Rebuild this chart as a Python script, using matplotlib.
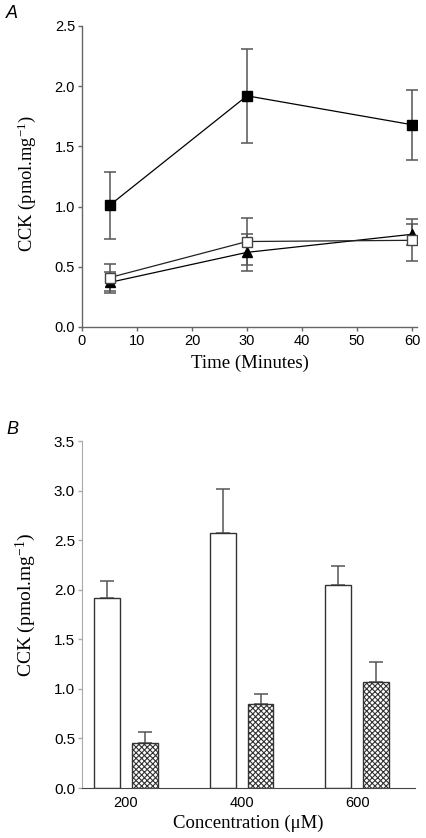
import matplotlib
matplotlib.use("Agg")
import matplotlib.pyplot as plt
import numpy as np

# Panel A data
time_min = [5, 30, 60]
filled_sq = [1.01, 1.92, 1.68]
filled_sq_err = [0.28, 0.39, 0.29]
open_sq = [0.41, 0.71, 0.72]
open_sq_err = [0.11, 0.195, 0.175]
triangle = [0.37, 0.62, 0.77]
triangle_err = [0.09, 0.155, 0.085]

# Panel B data
conc_labels = ["200", "400", "600"]
open_bar = [1.92, 2.57, 2.045]
open_bar_err = [0.165, 0.445, 0.195]
hatch_bar = [0.45, 0.85, 1.065]
hatch_bar_err = [0.115, 0.10, 0.205]

plt.rcParams['hatch.linewidth'] = 0.8
plt.rcParams['hatch.color'] = '#333333'
plt.rcParams['mathtext.fontset'] = 'custom'
plt.rcParams['mathtext.rm'] = 'Liberation Serif'
plt.rcParams['mathtext.it'] = 'Liberation Serif:italic'
plt.rcParams['mathtext.default'] = 'rm'

fig = plt.figure(figsize=(4.27, 8.38), dpi=100)
W, H = 427, 838

def add_ax(l, r, t, b):
    return fig.add_axes([l / W, 1 - b / H, (r - l) / W, (b - t) / H])

sans = ['Liberation Sans', 'DejaVu Sans']
serif = ['Liberation Serif', 'DejaVu Serif']
ecol = '#555555'

# ---- Panel A ----
axA = add_ax(82, 417, 26, 327)
for yv, ye in [(filled_sq, filled_sq_err), (open_sq, open_sq_err), (triangle, triangle_err)]:
    axA.errorbar(time_min, yv, yerr=ye, fmt='none', ecolor=ecol, elinewidth=1.1,
                 capsize=4.3, capthick=1.1, zorder=2)
axA.plot(time_min, filled_sq, color='black', lw=0.9, marker='s', ms=7, mfc='black', mec='black', zorder=3)
axA.plot(time_min, triangle, color='black', lw=0.9, marker='^', ms=6.5, mfc='black', mec='black', zorder=3)
axA.plot(time_min, open_sq, color='#222222', lw=0.9, marker='s', ms=7, mfc='white', mec='#444444', mew=1.0, zorder=4)
axA.set_xlim(0, 60.9)
axA.set_ylim(0, 2.5)
axA.set_xticks([0, 10, 20, 30, 40, 50, 60])
axA.set_yticks([0.0, 0.5, 1.0, 1.5, 2.0, 2.5])
axA.set_yticklabels(["0.0", "0.5", "1.0", "1.5", "2.0", "2.5"])
for s in ['top', 'right']:
    axA.spines[s].set_visible(False)
for s in ['left', 'bottom']:
    axA.spines[s].set_color('#666666')
    axA.spines[s].set_linewidth(1.0)
axA.tick_params(direction='out', length=3, width=1, color='#666666', labelsize=10.5, pad=2)
for lab in axA.get_xticklabels() + axA.get_yticklabels():
    lab.set_family(sans)
axA.set_xlabel("Time (Minutes)", family=serif, fontsize=13.5, labelpad=5)
axA.set_ylabel("CCK (pmol.mg$^{-1}$)", family=serif, fontsize=13.3)
axA.yaxis.set_label_coords(-0.131, 0.475)
fig.text(6 / W, 1 - 18 / H, "A", family=sans, style='italic', fontsize=13)

# ---- Panel B ----
axB = add_ax(82, 415, 441, 788)
x = np.arange(len(conc_labels))
w = 0.224
off = 0.164
axB.bar(x - off, open_bar, width=w, color='white', edgecolor='#333333', linewidth=1.0, zorder=2)
axB.bar(x + off, hatch_bar, width=w, color='white', edgecolor='#333333', linewidth=1.0, hatch='xxxxxx', zorder=2)
axB.errorbar(x - off, open_bar, yerr=[np.zeros(3), open_bar_err], fmt='none', ecolor=ecol,
             elinewidth=1.1, capsize=4.7, capthick=1.1, zorder=1)
axB.errorbar(x + off, hatch_bar, yerr=[np.zeros(3), hatch_bar_err], fmt='none', ecolor=ecol,
             elinewidth=1.1, capsize=4.7, capthick=1.1, zorder=1)
axB.set_xlim(-0.38, 2.5)
axB.set_ylim(0, 3.5)
axB.set_xticks(x)
axB.set_xticklabels(conc_labels)
axB.set_yticks([0.0, 0.5, 1.0, 1.5, 2.0, 2.5, 3.0, 3.5])
axB.set_yticklabels(["0.0", "0.5", "1.0", "1.5", "2.0", "2.5", "3.0", "3.5"])
for s in ['top', 'right']:
    axB.spines[s].set_visible(False)
axB.spines['left'].set_color('#aaaaaa')
axB.spines['bottom'].set_color('#444444')
axB.tick_params(axis='y', direction='out', length=3, width=1, color='#aaaaaa', labelsize=11, pad=2)
axB.tick_params(axis='x', length=0, labelsize=10.5, pad=6)
for lab in axB.get_xticklabels() + axB.get_yticklabels():
    lab.set_family(sans)
axB.set_xlabel("Concentration (\u03bcM)", family=serif, fontsize=13.5, labelpad=3)
axB.set_ylabel("CCK (pmol.mg$^{-1}$)", family=serif, fontsize=14)
axB.yaxis.set_label_coords(-0.132, 0.527)
fig.text(6 / W, 1 - 434 / H, "B", family=sans, style='italic', fontsize=13)

fig.savefig("out.png", dpi=100)
